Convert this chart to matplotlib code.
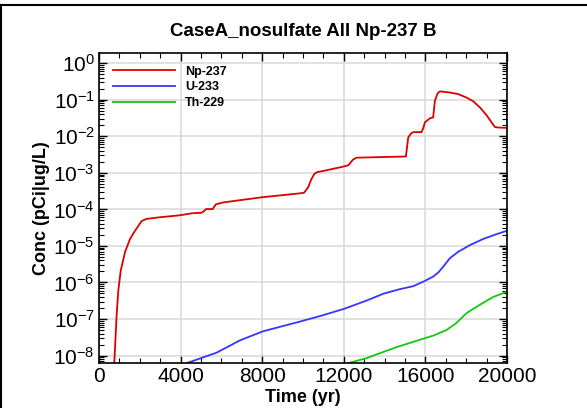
import math
import matplotlib
matplotlib.use("Agg")
import matplotlib.pyplot as plt
from matplotlib.lines import Line2D
from matplotlib.ticker import FixedLocator, MultipleLocator, LogLocator, FuncFormatter, NullFormatter

plt.rcParams['font.family'] = ['Liberation Sans', 'DejaVu Sans']
plt.rcParams['mathtext.fontset'] = 'custom'
plt.rcParams['mathtext.rm'] = 'Liberation Sans'
plt.rcParams['mathtext.it'] = 'Liberation Sans:italic'
plt.rcParams['mathtext.bf'] = 'Liberation Sans:bold'

# --- data ---
np237_t = [700, 750, 867, 946, 1063, 1274, 1519, 1764, 2091, 2337, 3000, 3969, 4542, 5030,
           5150, 5243, 5570, 5650, 5733, 6093, 7970, 9849, 10050, 10250, 10400, 10550,
           10700, 10976, 11970, 12216, 12450, 12625, 15043, 15100, 15157, 15300, 15402,
           15810, 15900, 15972, 16218, 16381, 16430, 16463, 16600, 16709, 17199, 17607,
           18016, 18343, 18669, 18996, 19404, 19568, 20000]
np237_c = [3e-9, 6.6e-9, 1.4e-7, 6.0e-7, 2.1e-6, 6.8e-6, 1.55e-5, 2.6e-5, 4.8e-5, 5.5e-5,
           6.1e-5, 6.9e-5, 7.8e-5, 8.1e-5, 9.0e-5, 1.02e-4, 1.02e-4, 1.2e-4, 1.38e-4, 1.55e-4,
           2.14e-4, 2.75e-4, 2.85e-4, 4.0e-4, 6.5e-4, 9.3e-4, 1.05e-3, 1.12e-3, 1.48e-3,
           1.6e-3, 2.3e-3, 2.6e-3, 2.8e-3, 5e-3, 9.3e-3, 1.2e-2, 1.3e-2, 1.3e-2, 1.7e-2,
           2.4e-2, 3.1e-2, 3.3e-2, 6e-2, 9.3e-2, 1.5e-1, 1.7e-1, 1.58e-1, 1.43e-1, 1.15e-1,
           9.1e-2, 6.2e-2, 3.8e-2, 1.8e-2, 1.74e-2, 1.7e-2]

u233_t = [4150, 4296, 5000, 5766, 6909, 8036, 9849, 10829, 12020, 13118, 13934, 14718,
          15402, 15972, 16381, 16627, 16873, 17199, 17607, 18180, 18833, 19486, 20000]
u233_c = [4e-9, 6.2e-9, 8.5e-9, 1.2e-8, 2.6e-8, 4.6e-8, 8.5e-8, 1.2e-7, 1.9e-7, 3.2e-7,
          4.9e-7, 6.5e-7, 7.9e-7, 1.1e-6, 1.45e-6, 1.86e-6, 2.7e-6, 4.6e-6, 6.9e-6,
          1.05e-5, 1.55e-5, 2.1e-5, 2.6e-5]

th229_t = [12000, 12216, 13118, 14588, 15730, 16381, 17037, 17527, 18016, 18669, 19322, 20000]
th229_c = [5e-9, 6.2e-9, 8.5e-9, 1.7e-8, 2.7e-8, 3.5e-8, 5.0e-8, 7.8e-8, 1.45e-7, 2.45e-7,
           4.0e-7, 5.6e-7]

x_ticks = [0, 4000, 8000, 12000, 16000, 20000]
y_decades = [1e0, 1e-1, 1e-2, 1e-3, 1e-4, 1e-5, 1e-6, 1e-7, 1e-8]

fig = plt.figure(figsize=(5.87, 4.08), dpi=100)
ax = fig.add_axes([0.1687, 0.110, 0.695, 0.760])

ax.plot(np237_t, np237_c, color='#dd0000', lw=1.3, label='Np-237')
ax.plot(u233_t, u233_c, color='#3535ff', lw=1.3, label='U-233')
ax.plot(th229_t, th229_c, color='#12c812', lw=1.3, label='Th-229')

ax.set_yscale('log')
ax.set_xlim(0, 20000)
ax.set_ylim(6.2e-9, 1.9)

ax.xaxis.set_major_locator(FixedLocator(x_ticks))
ax.xaxis.set_minor_locator(MultipleLocator(1000))
ax.yaxis.set_major_locator(FixedLocator(y_decades))
ax.yaxis.set_minor_locator(LogLocator(base=10, subs=range(2, 10), numticks=30))
ax.yaxis.set_minor_formatter(NullFormatter())
ax.yaxis.set_major_formatter(FuncFormatter(lambda v, p: r'$\mathregular{10^{%d}}$' % round(math.log10(v))))

ax.grid(True, which='major', color='#d9d9d9', lw=1.1)
ax.set_axisbelow(True)
ax.tick_params(which='both', direction='in', top=True, right=True, color='black')
ax.tick_params(which='major', length=6, width=1.0, labelsize=15, pad=3)
ax.tick_params(which='minor', length=3.5, width=0.8)
for s in ax.spines.values():
    s.set_linewidth(1.2)

ax.set_title('CaseA_nosulfate All Np-237 B', fontsize=13.5, fontweight='bold', pad=12)
ax.set_xlabel('Time (yr)', fontsize=13, fontweight='bold', labelpad=2)
ax.set_ylabel('Conc (pCi|ug/L)', fontsize=13, fontweight='bold', labelpad=2)

leg = ax.legend(loc='upper left', bbox_to_anchor=(0.0147, 0.984), frameon=False,
                handlelength=5.0, handletextpad=0.8, labelspacing=0.3,
                borderaxespad=0.3, borderpad=0.3,
                prop={'weight': 'bold', 'size': 9})

# outer frame (left and top edges visible)
fig.add_artist(Line2D([1.2 / 587, 1.2 / 587], [0, 1 - 5 / 408], transform=fig.transFigure, color='black', lw=1.5))
fig.add_artist(Line2D([0, 1], [1 - 5 / 408, 1 - 5 / 408], transform=fig.transFigure, color='black', lw=1.5))

fig.savefig('out.png', dpi=100)
